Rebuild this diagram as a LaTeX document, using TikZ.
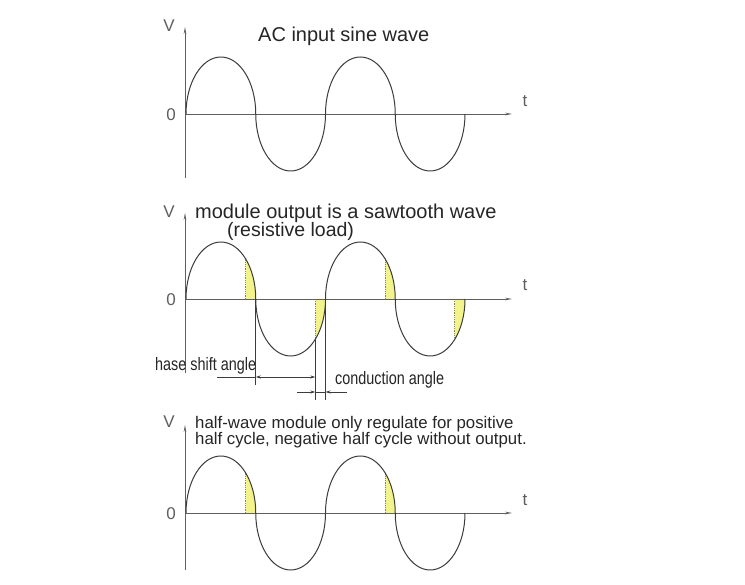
\documentclass[tikz,border=0pt]{standalone}
\usepackage{fontspec}
\setmainfont{Liberation Sans}
\newfontfamily\narrowfont[FakeStretch=0.8]{Liberation Sans}
\usepackage{xcolor}
\usepackage{tikz}
\usetikzlibrary{arrows.meta}
\definecolor{ink}{RGB}{60,60,60}
\definecolor{axisgray}{RGB}{95,95,95}
\definecolor{sunyellow}{RGB}{243,243,140}
\definecolor{rimcolor}{RGB}{140,140,50}

\begin{document}
\begin{tikzpicture}[x=1pt,y=-1pt,
  lobe/.style={x radius=34.875,y radius=57},
  axis/.style={draw=axisgray,line width=0.8pt,-{Stealth[length=7pt,width=2.6pt]}},
  wave/.style={draw=ink,line width=1pt},
  conduct/.style={fill=sunyellow},
  rim/.style={draw=rimcolor,densely dotted,line width=0.8pt},
  dim/.style={draw=ink,line width=0.7pt},
  tip/.style={-{Stealth[length=5pt,width=3pt]}},
  lbl/.style={text=axisgray,font=\fontsize{17}{17}\selectfont,anchor=base,inner sep=0pt},
  title/.style={text=black!85,anchor=base west,inner sep=0pt},
  note/.style={text=black!85,font=\narrowfont\fontsize{18}{18}\selectfont,anchor=base west,inner sep=0pt}]
\fill[white] (0,0) rectangle (745,585);
\useasboundingbox (0,0) rectangle (745,585);

\coordinate (o1) at (185,114);
\coordinate (top1) at (185,27);
\coordinate (end1) at (512,114);
\draw[axis] (185,178) -- (top1);
\draw[axis] (o1) -- (end1);
\draw[wave] (186,114) \foreach \i in {1,2}{arc[lobe,start angle=180,end angle=360] arc[lobe,start angle=180,end angle=0]};
\node[lbl] (v1) at (169,32) {V};
\node[lbl] (zero1) at (171,120.5) {0};
\node[lbl] (t1) at (525,107) {t};
\node[title,font=\fontsize{20}{20}\selectfont] (title1) at (258,42) {AC input sine wave};

\coordinate (o2) at (185,299);
\coordinate (top2) at (185,213);
\coordinate (end2) at (512,299);
\foreach \cx/\a/\b in {220.875/315/360,290.625/45/0,360.375/315/360,430.125/45/0}{
  \path[conduct] (\cx,299) ++(\a:34.875 and 57) arc[lobe,start angle=\a,end angle=\b] -- ({\cx+24.66},299) -- cycle;
  \draw[rim] ({\cx+24.66},299) -- ++(\a:0 and 57);
}
\draw[axis] (185,373) -- (top2);
\draw[axis] (o2) -- (end2);
\draw[wave] (186,299) \foreach \i in {1,2}{arc[lobe,start angle=180,end angle=360] arc[lobe,start angle=180,end angle=0]};
\node[lbl] (v2) at (169,218) {V};
\node[lbl] (zero2) at (171,305.5) {0};
\node[lbl] (t2) at (525,291) {t};
\node[title,font=\fontsize{20}{20}\selectfont] (title2a) at (195,219) {module output is a sawtooth wave};
\node[title,font=\fontsize{19.5}{20}\selectfont] (title2b) at (227,237) {(resistive load)};

\draw[dim] (255.75,299) -- (255.75,385);
\draw[dim] (315.29,339.31) -- (315.29,400);
\draw[dim] (325.5,299) -- (325.5,400);
\coordinate (ph0) at (217,377);
\coordinate (ph1) at (255.75,377);
\coordinate (ph2) at (315.29,377);
\draw[dim] (ph0) -- (ph1);
\draw[dim,{Stealth[length=5pt,width=3pt]}-{Stealth[length=5pt,width=3pt]}] (ph1) -- (ph2);
\coordinate (cd0) at (297,392);
\coordinate (cd1) at (315.29,392);
\coordinate (cd2) at (325.5,392);
\coordinate (cd3) at (347,392);
\draw[dim,tip] (cd0) -- (cd1);
\draw[dim,tip] (cd3) -- (cd2);
\draw[dim] (cd1) -- (cd2);
\node[note] (phase) at (155,371) {hase shift angle};
\node[note] (cond) at (335,385) {conduction angle};

\coordinate (o3) at (185,513);
\coordinate (top3) at (185,425);
\coordinate (end3) at (512,513);
\foreach \cx in {220.875,360.375}{
  \path[conduct] (\cx,513) ++(315:34.875 and 57) arc[lobe,start angle=315,end angle=360] -- ({\cx+24.66},513) -- cycle;
  \draw[rim] ({\cx+24.66},513) -- ++(315:0 and 57);
}
\draw[axis] (185,570) -- (top3);
\draw[axis] (o3) -- (end3);
\draw[wave] (186,513) \foreach \i in {1,2}{arc[lobe,start angle=180,end angle=360] arc[lobe,start angle=180,end angle=0]};
\node[lbl] (v3) at (169,428) {V};
\node[lbl] (zero3) at (171,519.5) {0};
\node[lbl] (t3) at (525,505) {t};
\node[title,align=left,font=\fontsize{16.8}{14.5}\selectfont] (title3) at (195,445) {half-wave module only regulate for positive\\half cycle, negative half cycle without output.};
\end{tikzpicture}
\end{document}
